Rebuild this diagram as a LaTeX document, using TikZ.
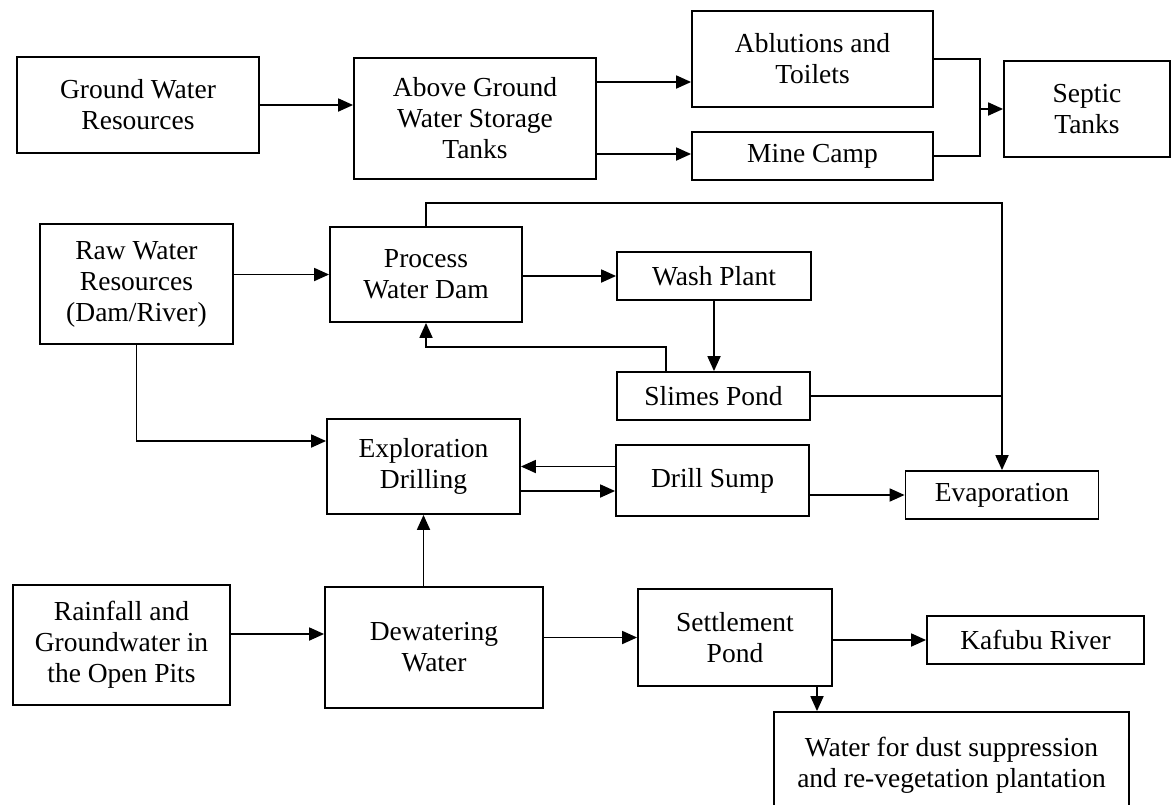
\documentclass[tikz,border=0pt]{standalone}
\usepackage{fontspec}
\setmainfont{Liberation Serif}
\usetikzlibrary{arrows.meta}
\begin{document}
\begin{tikzpicture}[x=1pt,y=-1pt,
  box/.style={draw,line width=1.8pt,inner sep=0pt,align=center,
    font=\fontsize{27.5}{31}\selectfont},
  arr/.style={line width=1.8pt,-{Triangle[length=15pt,width=13pt]}},
  ln/.style={line width=1.8pt}]
\clip (0,0) rectangle (1171,804);
\fill[white] (0,0) rectangle (1171,804);
% nodes
\node[box,minimum width=242,minimum height=96] (gw) at (138,105) {Ground Water\\Resources};
\node[box,minimum width=242,minimum height=121] (ag) at (475,118.5) {Above Ground\\Water Storage\\Tanks};
\node[box,minimum width=241,minimum height=96] (ab) at (812.5,59) {Ablutions and\\Toilets};
\node[box,minimum width=241,minimum height=48] (mc) at (812.5,156) {Mine Camp};
\node[box,minimum width=166,minimum height=96] (st) at (1087,109) {Septic\\Tanks};
\node[box,minimum width=193,minimum height=120] (rw) at (136.5,284) {Raw Water\\Resources\\(Dam/River)};
\node[box,minimum width=192,minimum height=95] (pd) at (426,274.5) {Process\\Water Dam};
\node[box,minimum width=194,minimum height=48] (wp) at (714,276) {Wash Plant};
\node[box,minimum width=193,minimum height=48] (sp) at (713.5,396) {Slimes Pond};
\node[box,minimum width=193,minimum height=95] (ed) at (423.5,466.5) {Exploration\\Drilling};
\node[box,minimum width=193,minimum height=71] (ds) at (712.5,480.5) {Drill Sump};
\node[box,minimum width=193,minimum height=48] (ev) at (1002,495) {Evaporation};
\node[box,minimum width=217,minimum height=120] (rf) at (121.5,645) {Rainfall and\\Groundwater in\\the Open Pits};
\node[box,minimum width=218,minimum height=121] (dw) at (434,647.5) {Dewatering\\Water};
\node[box,minimum width=194,minimum height=97] (sm) at (735,637.5) {Settlement\\Pond};
\node[box,minimum width=217,minimum height=48] (kr) at (1035.5,640) {Kafubu River};
\node[box,minimum width=355,minimum height=106] (wd) at (951.5,765) {Water for dust suppression\\and re-vegetation plantation};
% helper coordinates
\coordinate (y82) at (0,82);
\coordinate (y154) at (0,154);
\coordinate (j1) at (980,109);
\coordinate (y441) at (0,441);
\coordinate (y203) at (0,203);
\coordinate (s1) at (666,347);
\coordinate (y491) at (0,491);
\coordinate (y634) at (0,634);
\coordinate (x817) at (817,0);
% connectors
\draw[arr] (gw.east) -- (ag.west |- gw.east);
\draw[arr] (ag.east |- y82) -- (ab.west |- y82);
\draw[arr] (ag.east |- y154) -- (mc.west |- y154);
\draw[ln] (ab.east) -| (j1) |- (mc.east);
\draw[arr] (j1) -- (st.west);
\draw[arr] (rw.east |- pd.west) -- (pd.west);
\draw[arr] (rw.south) |- (ed.west |- y441);
\draw[arr] (pd.north) |- (ev.north |- y203) -- (ev.north);
\draw[arr] (pd.east |- wp.west) -- (wp.west);
\draw[arr] (wp.south) -- (sp.north -| wp.south);
\draw[arr] (s1 |- sp.north) -- (s1) -| (pd.south);
\draw[ln] (sp.east) -- (sp.east -| ev.north);
\draw[arr] (ds.west |- ed.east) -- (ed.east);
\draw[arr] (ed.east |- y491) -- (ds.west |- y491);
\draw[arr] (ds.east |- ev.west) -- (ev.west);
\draw[arr] (rf.east |- y634) -- (dw.west |- y634);
\draw[arr] (ed.south |- dw.north) -- (ed.south);
\draw[arr] (dw.east |- sm.west) -- (sm.west);
\draw[arr] (sm.east |- kr.west) -- (kr.west);
\draw[arr] (x817 |- sm.south) -- (x817 |- wd.north);
\end{tikzpicture}
\end{document}
